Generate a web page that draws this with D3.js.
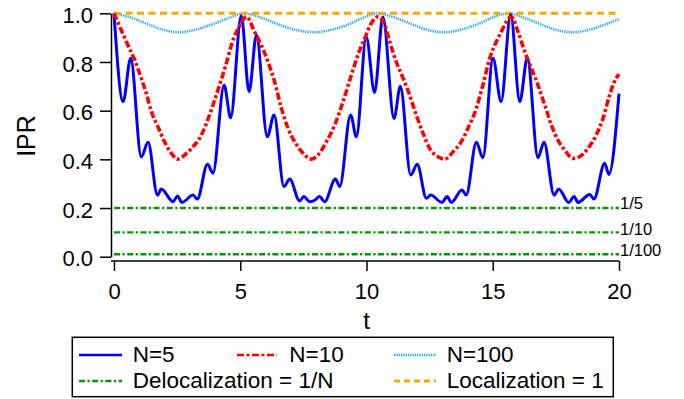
<!DOCTYPE html>
<html>
<head>
<meta charset="utf-8">
<script src="https://cdn.jsdelivr.net/npm/d3@7"></script>
<style>
  html, body { margin: 0; padding: 0; background: #fff; }
  svg { display: block; font-family: "Liberation Sans", Arial, Helvetica, sans-serif; }
</style>
</head>
<body>
<svg id="chart" width="684" height="399"></svg>
<script>
// ---- data ----
const xTicks = [0, 5, 10, 15, 20];
const yTicks = [0.0, 0.2, 0.4, 0.6, 0.8, 1.0];

const n5T = [0,0.36,0.66,1.08,1.35,1.72,1.87,2.34,2.51,2.69,3.13,3.30,3.70,3.92,4.36,4.62,5.04,5.35,5.64,6.07,6.34,6.73,6.96,7.35,7.52,7.75,7.95,8.14,8.34,8.77,8.94,9.37,9.60,9.99,10.32,10.65,11.09,11.34,11.75,12.01,12.37,12.54,12.99,13.19,13.36,13.78,13.95,14.35,14.61,15.01,15.33,15.71,16.07,16.37,16.79,17.03,17.43,17.61,18.01,18.22,18.38,18.84,19.01,19.43,19.60,20];
const n5V = [1.0,0.637,0.815,0.41,0.47,0.253,0.278,0.226,0.249,0.223,0.253,0.237,0.38,0.343,0.705,0.571,0.99,0.678,0.91,0.493,0.582,0.288,0.319,0.229,0.247,0.226,0.232,0.247,0.226,0.319,0.288,0.582,0.493,0.904,0.675,0.985,0.568,0.70,0.336,0.38,0.24,0.253,0.223,0.247,0.223,0.274,0.253,0.47,0.407,0.815,0.637,0.995,0.637,0.817,0.407,0.47,0.253,0.278,0.223,0.247,0.223,0.256,0.237,0.384,0.338,0.67];

const n10T = [0,0.29,0.5,0.82,1.08,1.28,1.48,1.74,2.0,2.27,2.53,2.8,3.13,3.39,3.66,3.92,4.18,4.45,4.65,4.85,5.04,5.24,5.57,5.83,6.1,6.36,6.63,6.89,7.16,7.49,7.81,8.08,8.41,8.74,9.07,9.4,9.66,9.93,10.19,10.46,10.72,10.92,11.18,11.45,11.71,11.97,12.24,12.5,12.83,13.1,13.43,13.75,14.02,14.35,14.61,14.88,15.14,15.34,15.54,15.74,16.0,16.27,16.53,16.79,17.06,17.32,17.58,17.85,18.18,18.44,18.77,19.1,19.37,19.63,19.8,20];
const n10V = [1.0,0.93,0.88,0.808,0.733,0.671,0.596,0.534,0.472,0.425,0.401,0.418,0.452,0.486,0.548,0.623,0.705,0.795,0.87,0.924,0.96,0.986,0.924,0.87,0.80,0.719,0.61,0.528,0.472,0.425,0.401,0.418,0.472,0.541,0.637,0.746,0.829,0.897,0.959,0.986,0.952,0.883,0.80,0.733,0.664,0.582,0.507,0.445,0.411,0.401,0.431,0.472,0.528,0.61,0.705,0.815,0.883,0.924,0.966,0.986,0.924,0.842,0.774,0.705,0.623,0.541,0.479,0.438,0.404,0.411,0.445,0.50,0.569,0.664,0.715,0.75];

const n100T = [0,0.6,1.3,1.9,2.55,3.2,3.9,4.6,5.15,5.8,6.5,7.2,7.95,8.6,9.3,9.9,10.45,11.1,11.8,12.4,13.1,13.7,14.4,15.0,15.6,16.2,16.9,17.5,18.2,18.8,19.4,20];
const n100V = [1.0,0.985,0.957,0.934,0.922,0.932,0.955,0.983,1.0,0.983,0.955,0.932,0.922,0.932,0.955,0.983,1.0,0.983,0.955,0.932,0.922,0.932,0.955,0.983,1.0,0.983,0.955,0.932,0.922,0.932,0.952,0.976];

const delocLevels = [0.2, 0.1, 0.01];
const delocLabels = ["1/5", "1/10", "1/100"];
const localLevel = 1.0;

const legendLabels = ["N=5", "N=10", "N=100", "Delocalization = 1/N", "Localization = 1"];

// ---- drawing ----
const svg = d3.select("#chart");
const x = d3.scaleLinear().domain([0, 20]).range([114, 619]);
const y = d3.scaleLinear().domain([0, 1]).range([256.7, 13.3]);

const styles = {
  n5:    { stroke: "#0000ff", width: 3,   dash: null },
  n10:   { stroke: "#ff0000", width: 3.6, dash: "7,2.5,3,2.5" },
  n100:  { stroke: "#2aa8fa", width: 2.6, dash: "1.3,1" },
  deloc: { stroke: "#009900", width: 2.3, dash: "6,2.5,2.2,2.5" },
  local: { stroke: "#ffa500", width: 3,   dash: "7,4.5" }
};

function styled(sel, s) {
  sel.attr("fill", "none").attr("stroke", s.stroke).attr("stroke-width", s.width);
  if (s.dash) sel.attr("stroke-dasharray", s.dash);
  return sel;
}

const line = d3.line().x(d => x(d[0])).y(d => y(d[1])).curve(d3.curveMonotoneX);
const flat = d3.line().x(d => x(d[0])).y(d => y(d[1]));
const zip = (a, b) => a.map((t, i) => [t, b[i]]);

const plot = svg.append("g");

delocLevels.forEach(lv => {
  styled(plot.append("path").attr("d", flat([[0, lv], [20, lv]])), styles.deloc);
});
styled(plot.append("path").attr("d", line(zip(n100T, n100V))), styles.n100);
styled(plot.append("path").attr("d", flat([[0, localLevel], [20, localLevel]])), styles.local);
styled(plot.append("path").attr("d", line(zip(n5T, n5V))), styles.n5).attr("stroke-linejoin", "round");
styled(plot.append("path").attr("d", line(zip(n10T, n10V))), styles.n10);

// level labels
delocLevels.forEach((lv, i) => {
  svg.append("text").attr("x", x(20) + 1).attr("y", y(lv) + [1, 2.5, 2][i])
    .attr("font-size", 16.5).attr("fill", "#000").text(delocLabels[i]);
});

// axes
const yAxis = d3.axisLeft(y).tickValues(yTicks).tickFormat(d3.format(".1f"))
  .tickSize(11).tickSizeOuter(0).tickPadding(7);
const gy = svg.append("g").attr("transform", "translate(111,0)").call(yAxis);
gy.selectAll("text").attr("font-size", 22).attr("dy", "0.42em").attr("fill", "#000")
  .attr("font-family", "Liberation Sans, Arial, sans-serif");
gy.selectAll("line").attr("stroke", "#000").attr("stroke-width", 1.5);
gy.select(".domain").attr("stroke", "#000").attr("stroke-width", 1.5);

const xAxis = d3.axisBottom(x).tickValues(xTicks).tickFormat(d3.format("d"))
  .tickSize(10).tickSizeOuter(0).tickPadding(12);
const gx = svg.append("g").attr("transform", "translate(0,261)").call(xAxis);
gx.select(".domain").remove();
gx.append("line").attr("x1", 111).attr("x2", x(20)).attr("y1", 0).attr("y2", 0)
  .attr("stroke", "#000").attr("stroke-width", 1.5);
gx.selectAll("text").attr("font-size", 22).attr("fill", "#000")
  .attr("font-family", "Liberation Sans, Arial, sans-serif");
gx.selectAll(".tick line").attr("stroke", "#000").attr("stroke-width", 1.5);

// axis titles
svg.append("text").attr("x", x(10)).attr("y", 329).attr("text-anchor", "middle")
  .attr("font-size", 24).text("t");
svg.append("text").attr("transform", "translate(35,136) rotate(-90)").attr("text-anchor", "middle")
  .attr("font-size", 25).text("IPR");

// legend
const lg = svg.append("g");
lg.append("rect").attr("x", 72.3).attr("y", 337.3).attr("width", 541).attr("height", 59.4)
  .attr("fill", "#fff").attr("stroke", "#000").attr("stroke-width", 1.5);
const legendItems = [
  { key: "n5",    x1: 79,  x2: 122, ly: 355, tx: 132.7, ty: 362 },
  { key: "n10",   x1: 237, x2: 277, ly: 355, tx: 289.3, ty: 362 },
  { key: "n100",  x1: 394, x2: 436, ly: 355, tx: 446.7, ty: 362 },
  { key: "deloc", x1: 79,  x2: 122, ly: 381, tx: 132.7, ty: 388 },
  { key: "local", x1: 394, x2: 436, ly: 381, tx: 446.7, ty: 388 }
];
legendItems.forEach((it, i) => {
  const s = Object.assign({}, styles[it.key]);
  if (it.key === "n5" || it.key === "n10") s.width = 2.5;
  if (it.key === "local") s.dash = "6,4";
  styled(lg.append("line").attr("x1", it.x1).attr("x2", it.x2).attr("y1", it.ly).attr("y2", it.ly), s);
  lg.append("text").attr("x", it.tx).attr("y", it.ty).attr("font-size", 22.5).attr("fill", "#000")
    .text(legendLabels[i]);
});
</script>
</body>
</html>
